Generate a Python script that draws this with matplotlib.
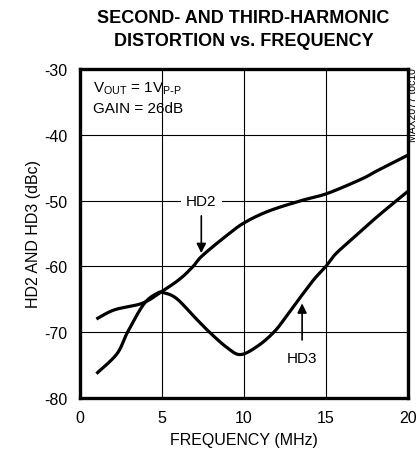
import matplotlib.pyplot as plt
import numpy as np
from matplotlib import font_manager

# Data
hd2_freq = [1.0, 2.1, 3.8, 5.0, 6.1, 6.9, 7.45, 8.9, 10.0, 11.5, 13.5, 15.1, 17.2, 18.1, 20.0]
hd2_dbc = [-68.0, -66.6, -65.6, -63.8, -61.9, -60.0, -58.4, -55.4, -53.4, -51.6, -50.0, -48.9, -46.7, -45.5, -43.1]

hd3_freq = [1.0, 2.25, 2.9, 3.9, 4.7, 5.1, 5.9, 7.1, 7.9, 8.95, 9.8, 10.9, 11.9, 12.7, 13.5, 14.3, 15.0, 15.6, 16.8, 18.2, 20.0]
hd3_dbc = [-76.3, -73.3, -70.0, -65.7, -64.1, -64.0, -64.9, -68.0, -70.0, -72.3, -73.4, -72.0, -69.8, -67.2, -64.5, -61.9, -60.0, -58.1, -55.4, -52.3, -48.6]

x_ticks = [0, 5, 10, 15, 20]
y_ticks = [-80, -70, -60, -50, -40, -30]

installed = {f.name for f in font_manager.fontManager.ttflist}
narrow = 'Liberation Sans Narrow' if 'Liberation Sans Narrow' in installed else 'Liberation Sans'
plt.rcParams['font.family'] = [narrow, 'DejaVu Sans']
plt.rcParams['axes.unicode_minus'] = False


def smooth(xs, ys):
    # Catmull-Rom through the read points
    xs = np.asarray(xs, float)
    ys = np.asarray(ys, float)
    px, py = [], []
    for i in range(len(xs) - 1):
        i0, i3 = max(i - 1, 0), min(i + 2, len(xs) - 1)
        p0, p1, p2, p3 = [np.array([xs[k], ys[k]]) for k in (i0, i, i + 1, i3)]
        t = np.linspace(0, 1, 30, endpoint=False)[:, None]
        pts = 0.5 * ((2 * p1) + (-p0 + p2) * t + (2 * p0 - 5 * p1 + 4 * p2 - p3) * t ** 2
                     + (-p0 + 3 * p1 - 3 * p2 + p3) * t ** 3)
        px.extend(pts[:, 0])
        py.extend(pts[:, 1])
    px.append(xs[-1])
    py.append(ys[-1])
    return np.array(px), np.array(py)


fig = plt.figure(figsize=(4.2, 4.56), dpi=100)
ax = fig.add_axes([0.1905, 0.125, 0.7805, 0.7215])

x2, y2 = smooth(hd2_freq, hd2_dbc)
x3, y3 = smooth(hd3_freq, hd3_dbc)
ax.plot(x2, y2, color='black', linewidth=2.3, zorder=4, solid_capstyle='butt')
ax.plot(x3, y3, color='black', linewidth=2.3, zorder=4, solid_capstyle='butt')

ax.set_xlim(0, 20)
ax.set_ylim(-80, -30)
ax.set_xticks(x_ticks)
ax.set_yticks(y_ticks)
ax.tick_params(length=0, labelsize=11.5, pad=9)
ax.grid(True, color='black', linewidth=0.8)
for s in ax.spines.values():
    s.set_linewidth(2.4)

ax.set_xlabel('FREQUENCY (MHz)', fontsize=11.5, labelpad=5)
ax.set_ylabel('HD2 AND HD3 (dBc)', fontsize=11.5, labelpad=2)

fig.text(0.58, 0.934, 'SECOND- AND THIRD-HARMONIC\nDISTORTION vs. FREQUENCY',
         ha='center', va='center', fontsize=13, fontweight='bold', linespacing=1.45)

ax.text(0.8, -32.8, r'V$_{\mathregular{OUT}}$ = 1V$_{\mathregular{P\text{-}P}}$', fontsize=11, va='center')
ax.text(0.8, -35.9, 'GAIN = 26dB', fontsize=11, va='center')

ax.text(7.4, -50, 'HD2', fontsize=11, ha='center', va='center', zorder=5,
        bbox=dict(facecolor='white', edgecolor='none', pad=4))
ax.annotate('', xy=(7.4, -58.4), xytext=(7.4, -51.9),
            arrowprops=dict(arrowstyle='-|>', color='black', lw=1.2, mutation_scale=14))
ax.text(13.55, -73.9, 'HD3', fontsize=11, ha='center', va='center')
ax.annotate('', xy=(13.55, -65.2), xytext=(13.55, -71.6),
            arrowprops=dict(arrowstyle='-|>', color='black', lw=1.2, mutation_scale=14))

fig.text(0.996, 0.851, 'MAX2077 toc10', rotation=90, fontsize=7.5, ha='right', va='top')

fig.savefig('out.png', dpi=100, facecolor='white')
